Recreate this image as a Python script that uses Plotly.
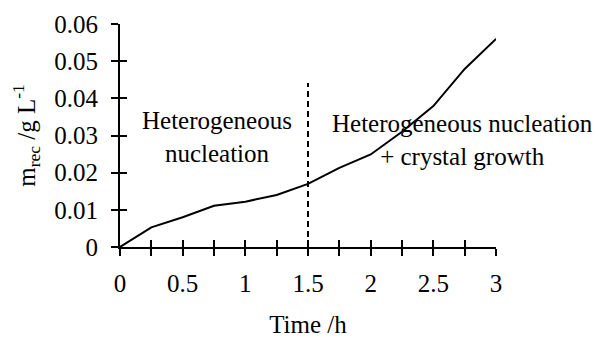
import plotly.graph_objects as go

time_h = [0, 0.25, 0.5, 0.75, 1.0, 1.25, 1.5, 1.75, 2.0, 2.25, 2.5, 2.75, 3.0]
m_rec = [0, 0.0053, 0.0080, 0.0111, 0.0122, 0.0140, 0.0170, 0.0213, 0.0249, 0.0310, 0.0379, 0.0479, 0.0560]

divider_x = [1.5, 1.5]
divider_y = [0, 0.0441]

x_ticks = [0, 0.25, 0.5, 0.75, 1, 1.25, 1.5, 1.75, 2, 2.25, 2.5, 2.75, 3]
x_labels = ["0", "", "0.5", "", "1", "", "1.5", "", "2", "", "2.5", "", "3"]
y_ticks = [0, 0.01, 0.02, 0.03, 0.04, 0.05, 0.06]
y_labels = ["0", "0.01", "0.02", "0.03", "0.04", "0.05", "0.06"]

FONT = "Liberation Serif"
FS = 25

fig = go.Figure()
fig.add_trace(go.Scatter(x=time_h, y=m_rec, mode="lines",
                         line=dict(color="black", width=2), showlegend=False, cliponaxis=False))
# divider drawn on the overlaying axes (same ranges) so the inside tick axes render
fig.add_trace(go.Scatter(x=divider_x, y=divider_y, mode="lines", xaxis="x2", yaxis="y2",
                         line=dict(color="black", width=2, dash="6px,4px"), showlegend=False))

fig.add_annotation(x=0.77, y=0.0295, xref="x", yref="y", text="Heterogeneous<br>nucleation",
                   showarrow=False, font=dict(family=FONT, size=FS, color="black"), align="center")
fig.add_annotation(x=2.73, y=0.0288, xref="x", yref="y", text="Heterogeneous nucleation<br>+ crystal growth",
                   showarrow=False, font=dict(family=FONT, size=FS, color="black"), align="center")

axis_common = dict(showgrid=False, zeroline=False, showline=True, linecolor="black", linewidth=2,
                   ticklen=7, tickwidth=2, tickcolor="black", automargin=False,
                   tickfont=dict(family=FONT, size=FS, color="black"))

fig.update_layout(
    width=598, height=338,
    margin=dict(l=120, r=102, t=24, b=91),
    paper_bgcolor="white", plot_bgcolor="white",
    font=dict(family=FONT, size=FS, color="black"),
    xaxis=dict(range=[0, 3], tickmode="array", tickvals=x_ticks, ticktext=x_labels,
               ticks="outside", ticklabelstandoff=6,
               title=dict(text="Time /h", font=dict(family=FONT, size=FS), standoff=25),
               **axis_common),
    yaxis=dict(range=[0, 0.06], tickmode="array", tickvals=y_ticks, ticktext=y_labels,
               ticks="outside", ticklabelstandoff=8,
               title=dict(text="m<sub>rec</sub> /g L<sup>-1</sup>", font=dict(family=FONT, size=FS), standoff=12),
               **axis_common),
    xaxis2=dict(range=[0, 3], overlaying="x", anchor="y2", tickmode="array", tickvals=x_ticks,
                ticks="inside", showticklabels=False, showgrid=False, zeroline=False, automargin=False,
                showline=False, ticklen=7, tickwidth=2, tickcolor="black", side="bottom"),
    yaxis2=dict(range=[0, 0.06], overlaying="y", anchor="x2", tickmode="array", tickvals=y_ticks,
                ticks="inside", showticklabels=False, showgrid=False, zeroline=False, automargin=False,
                showline=False, ticklen=7, tickwidth=2, tickcolor="black", side="left"),
)

fig.write_html("out.html")
